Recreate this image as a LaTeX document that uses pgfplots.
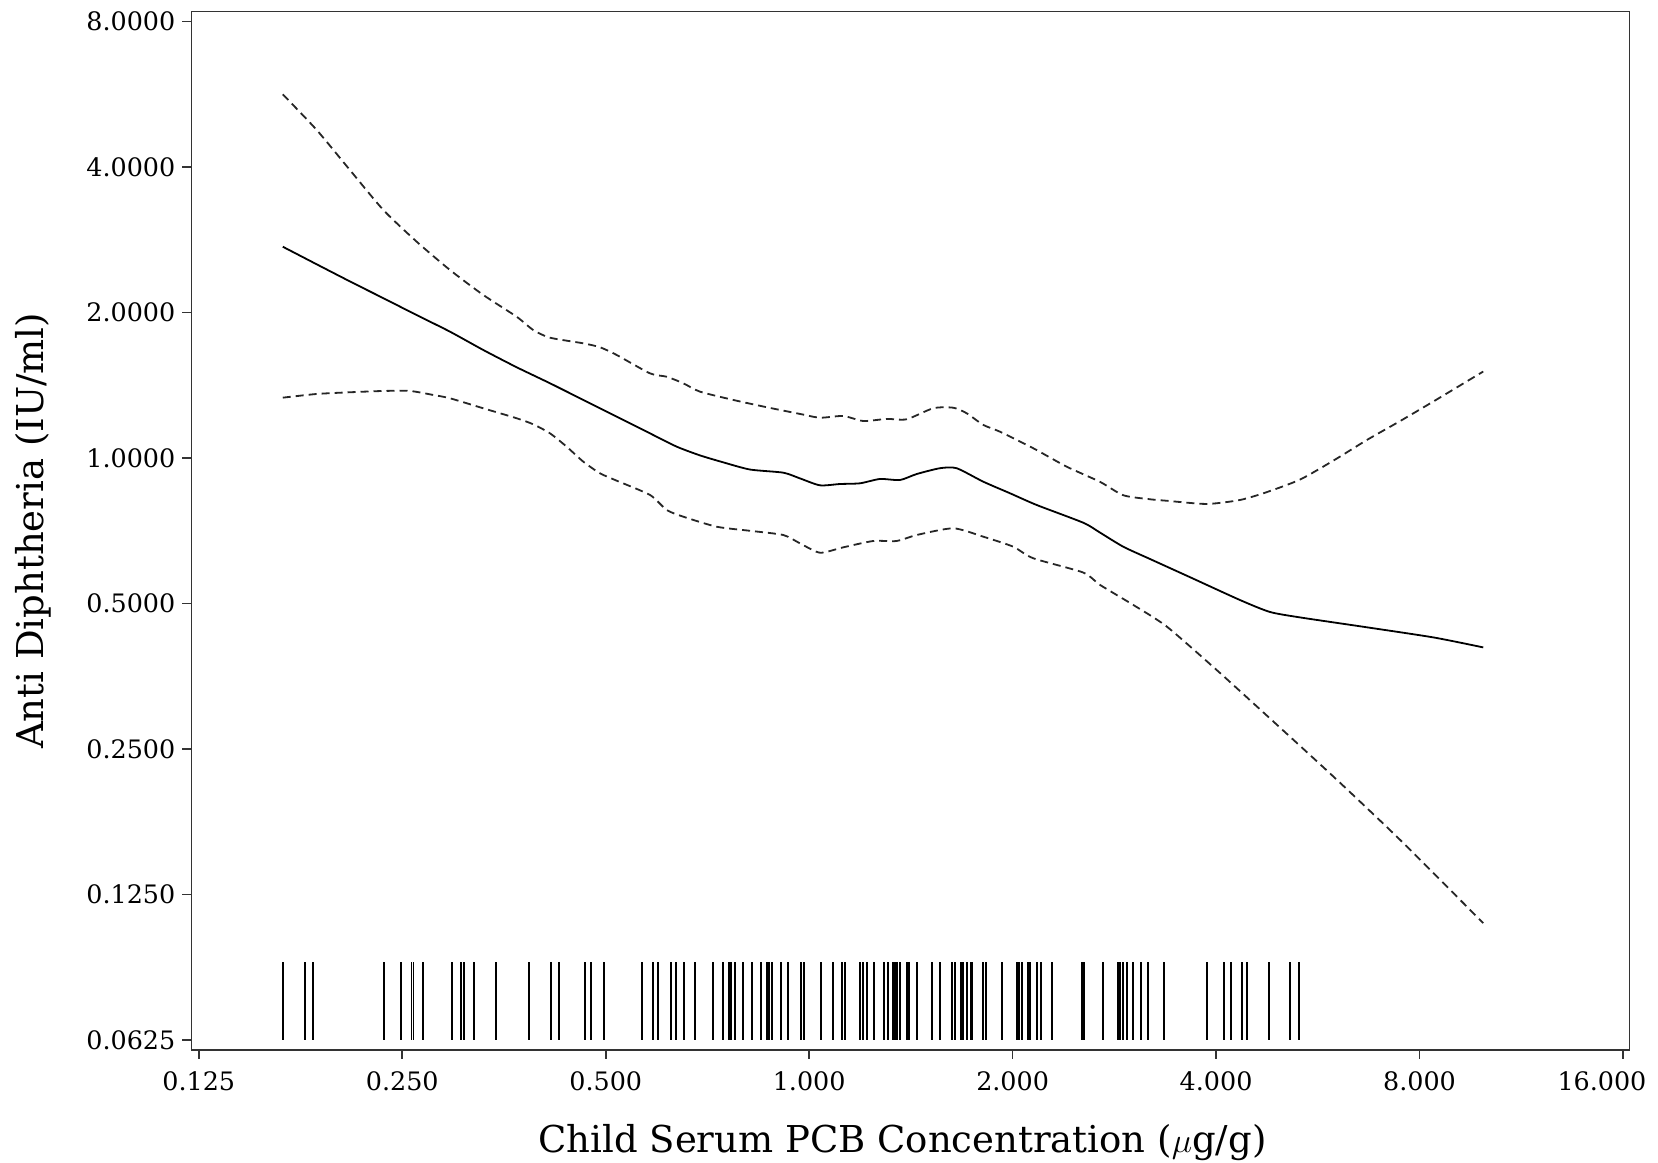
\documentclass[border=0pt]{standalone}
\usepackage{pgfplots}
\pgfplotsset{compat=1.18}
\usepackage{fontspec}
\setmainfont{DejaVu Serif}

\pgfplotstableread{
x y
0.1664 2.735
0.1868 2.515
0.2092 2.318
0.2344 2.140
0.2626 1.975
0.2941 1.825
0.3295 1.672
0.3692 1.540
0.4135 1.427
0.4632 1.318
0.5190 1.217
0.5814 1.124
0.6368 1.055
0.6894 1.012
0.7463 0.979
0.8175 0.946
0.9155 0.932
0.9690 0.907
1.0376 0.8775
1.1107 0.883
1.1891 0.886
1.2729 0.9044
1.3625 0.9000
1.4424 0.926
1.5614 0.952
1.6527 0.952
1.8098 0.8928
1.9825 0.8449
2.1709 0.7991
2.5440 0.7343
2.6930 0.7007
2.9155 0.6550
3.1930 0.6178
3.6590 0.5666
4.3416 0.5079
4.8050 0.4800
5.3279 0.4676
6.6903 0.4461
8.4003 0.4250
9.938 0.4054
}\fitdata

\pgfplotstableread{
x y
0.1664 5.653
0.1868 4.769
0.2092 3.941
0.2344 3.258
0.2626 2.801
0.2941 2.448
0.3295 2.173
0.3692 1.959
0.3907 1.839
0.4135 1.773
0.4632 1.726
0.4903 1.694
0.5190 1.633
0.5814 1.496
0.6155 1.472
0.6512 1.427
0.6894 1.371
0.7721 1.318
0.8652 1.273
0.9690 1.233
1.0376 1.211
1.1232 1.221
1.2025 1.192
1.3023 1.204
1.3939 1.202
1.5263 1.267
1.6339 1.270
1.7101 1.237
1.8098 1.170
1.9153 1.133
2.1456 1.047
2.4045 0.959
2.6930 0.8923
2.9166 0.8369
3.1930 0.8211
3.3810 0.8153
3.8749 0.8029
4.3416 0.8184
4.7563 0.8497
5.3279 0.9022
5.9700 0.9877
6.6903 1.0896
7.4968 1.1928
8.4003 1.3102
9.938 1.509
}\upperdata

\pgfplotstableread{
x y
0.1664 1.3323
0.1868 1.3560
0.2092 1.3670
0.2344 1.3755
0.2567 1.3755
0.2779 1.3495
0.2941 1.3285
0.3295 1.2665
0.3692 1.2077
0.3907 1.1735
0.4135 1.1243
0.4377 1.0548
0.4632 0.9821
0.4903 0.9293
0.5190 0.8971
0.5814 0.8381
0.6155 0.7803
0.6512 0.7558
0.7297 0.7205
0.8175 0.7066
0.9155 0.6926
0.9690 0.6657
1.0376 0.6365
1.1232 0.6531
1.2440 0.6731
1.3472 0.6731
1.4424 0.6926
1.6339 0.7150
1.8098 0.6870
2.0043 0.6550
2.1456 0.6199
2.5440 0.5791
2.6930 0.5461
3.0175 0.4962
3.3810 0.4478
4.0104 0.3638
4.7546 0.2930
5.9700 0.2189
7.4968 0.1618
9.938 0.1090
}\lowerdata

\pgfplotstableread{
x
0.1664
0.1795
0.1843
0.2347
0.2492
0.2580
0.2598
0.2686
0.2965
0.3057
0.3088
0.3195
0.3437
0.3854
0.4150
0.4264
0.4659
0.4755
0.4970
0.5664
0.5880
0.5981
0.6245
0.6352
0.6528
0.6777
0.7213
0.7448
0.7602
0.7654
0.7775
0.7990
0.8238
0.8486
0.8670
0.8721
0.8810
0.9085
0.9304
0.9725
0.9835
1.0402
1.0836
1.1185
1.1288
1.1904
1.2014
1.2191
1.2485
1.2918
1.3069
1.3320
1.3397
1.3489
1.3641
1.3970
1.4065
1.4424
1.5196
1.5600
1.6284
1.6416
1.6755
1.6904
1.7101
1.7336
1.7395
1.8098
1.8265
1.9305
2.0317
2.0435
2.0624
2.1050
2.1215
2.1750
2.2003
2.2843
2.5353
2.5500
2.7234
2.8603
2.8828
2.9155
2.9495
3.0165
3.0998
3.1681
3.3491
3.8822
4.1086
4.2076
4.3681
4.4433
4.7889
5.1444
5.3099
9.938
}\rugdata

\begin{document}
\begin{tikzpicture}
\useasboundingbox (-95.7pt,-56pt) rectangle (733.3pt,525pt);
\begin{axis}[
  scale only axis, width=719pt, height=519.2pt,
  xmode=log, ymode=log, log basis x=2, log basis y=2,
  xmin=0.12188, xmax=16.354, ymin=0.05955, ymax=8.383,
  xtick={0.125,0.25,0.5,1,2,4,8,16},
  xticklabels={0.125,0.250,0.500,1.000,2.000,4.000,8.000,\hspace*{-21pt}16.000},
  ytick={0.0625,0.125,0.25,0.5,1,2,4,8},
  yticklabels={0.0625,0.1250,0.2500,0.5000,1.0000,2.0000,4.0000,8.0000},
  xminorticks=false, yminorticks=false,
  tick align=outside, xtick pos=bottom, ytick pos=left,
  major tick length=4.5pt,
  axis line style={line width=0.8pt, black!80},
  every tick/.style={line width=0.8pt, black!80},
  /pgf/number format/assume math mode=true,
  ticklabel style={font=\fontsize{12.7}{15}\selectfont},
  xticklabel style={yshift=-3pt},
  label style={font=\fontsize{18.5}{22}\selectfont},
  xlabel={Child Serum PCB Concentration ($\mu$g/g)},
  ylabel={Anti Diphtheria (IU/ml)},
  xlabel style={at={(axis description cs:0.4945,-0.0988)}, anchor=base},
  ylabel style={at={(axis description cs:-0.110,0.5)}, anchor=center},
  clip=false,
]
\addplot[black, line width=0.9pt, smooth, tension=0.4] table[x=x,y=y] {\fitdata};
\addplot[black!85, line width=0.9pt, smooth, tension=0.4, dash pattern=on 4pt off 2.5pt] table[x=x,y=y] {\upperdata};
\addplot[black!85, line width=0.9pt, smooth, tension=0.4, dash pattern=on 4pt off 2.5pt] table[x=x,y=y] {\lowerdata};
\pgfplotsinvokeforeach{0,...,96}{%
  \pgfplotstablegetelem{#1}{x}\of\rugdata
  \edef\rx{\pgfplotsretval}
  \edef\temp{\noexpand\addplot[black, line width=0.9pt] coordinates {(\rx,0.0625) (\rx,0.0904)};}
  \temp
}
\end{axis}
\end{tikzpicture}
\end{document}
